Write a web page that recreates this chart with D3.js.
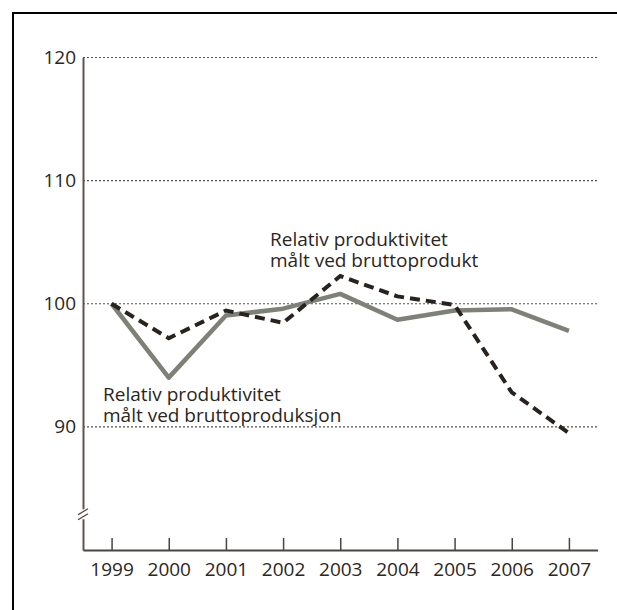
<!DOCTYPE html>
<html>
<head>
<meta charset="utf-8">
<script src="https://cdn.jsdelivr.net/npm/d3@7"></script>
<style>
  body { margin: 0; background: #fff; }
  svg text { font-family: "Open Sans", sans-serif; fill: #2b2622; }
</style>
</head>
<body>
<script>
// data
var years = [1999, 2000, 2001, 2002, 2003, 2004, 2005, 2006, 2007];
var bruttoproduksjon = [100, 94.0, 99.05, 99.6, 100.8, 98.7, 99.45, 99.55, 97.8];
var bruttoprodukt = [100, 97.2, 99.45, 98.45, 102.25, 100.6, 99.9, 92.8, 89.5];
var yTicks = [90, 100, 110, 120];
var labelProdukt = ["Relativ produktivitet", "målt ved bruttoprodukt"];
var labelProduksjon = ["Relativ produktivitet", "målt ved bruttoproduksjon"];

var width = 617, height = 610;
var fontSize = 19;

var svg = d3.select("body").append("svg")
	.attr("width", width)
	.attr("height", height);

// frame
svg.append("rect")
	.attr("x", 13).attr("y", 13)
	.attr("width", 640).attr("height", 640)
	.attr("fill", "none")
	.attr("stroke", "#000")
	.attr("stroke-width", 2);

var x = d3.scaleLinear().domain([1998.5, 2007.5]).range([83, 597.5]);
var y = d3.scaleLinear().domain([80, 120]).range([550, 57.5]);

// dotted grid
svg.append("g").selectAll("line")
	.data(yTicks)
	.enter().append("line")
	.attr("x1", x(1998.5)).attr("x2", x(2007.5))
	.attr("y1", function(d) { return y(d); })
	.attr("y2", function(d) { return y(d); })
	.attr("stroke", "#55504b")
	.attr("stroke-width", 1.2)
	.attr("stroke-dasharray", "2,2");

var yAxis = svg.append("g")
	.attr("transform", "translate(" + x(1998.5) + ",0)")
	.call(d3.axisLeft(y).tickValues(yTicks).tickSize(0).tickPadding(7).tickFormat(d3.format("d")));
yAxis.select(".domain").attr("stroke", "#5a5550").attr("stroke-width", 2);
yAxis.selectAll("text").attr("font-size", fontSize).style("fill", "#2b2622");

var xAxis = svg.append("g")
	.attr("transform", "translate(0," + y(80) + ")")
	.call(d3.axisBottom(x).tickValues(years).tickSizeInner(-12).tickSizeOuter(0).tickPadding(13).tickFormat(d3.format("d")));
xAxis.select(".domain").attr("stroke", "#4a4540").attr("stroke-width", 2);
xAxis.selectAll(".tick line").attr("stroke", "#4a4540").attr("stroke-width", 1.5);
xAxis.selectAll("text").attr("font-size", fontSize).style("fill", "#2b2622");

// axis break marker
var bx = x(1998.5), by = y(82.9);
svg.append("rect")
	.attr("x", bx - 4).attr("y", by - 5)
	.attr("width", 8).attr("height", 10)
	.attr("fill", "#fff");
[-2.5, 2.5].forEach(function(o) {
	svg.append("line")
		.attr("x1", bx - 5).attr("y1", by + o + 3)
		.attr("x2", bx + 5).attr("y2", by + o - 3)
		.attr("stroke", "#4a4540")
		.attr("stroke-width", 1.3);
});

var line = d3.line()
	.x(function(d, i) { return x(years[i]); })
	.y(function(d) { return y(d); });

svg.append("path")
	.datum(bruttoproduksjon)
	.attr("d", line)
	.attr("fill", "none")
	.attr("stroke", "#7e8177")
	.attr("stroke-width", 4.5)
	.attr("stroke-linejoin", "round");

svg.append("path")
	.datum(bruttoprodukt)
	.attr("d", line)
	.attr("fill", "none")
	.attr("stroke", "#28231e")
	.attr("stroke-width", 4)
	.attr("stroke-dasharray", "10,6");

// series labels, one text per line
function addLabel(lines, lx, ly) {
	svg.append("g").selectAll("text")
		.data(lines)
		.enter().append("text")
		.attr("x", lx)
		.attr("y", function(d, i) { return ly + i * 21; })
		.attr("font-size", fontSize)
		.text(function(d) { return d; });
}
addLabel(labelProdukt, 270, 246);
addLabel(labelProduksjon, 103, 401);
</script>
</body>
</html>
